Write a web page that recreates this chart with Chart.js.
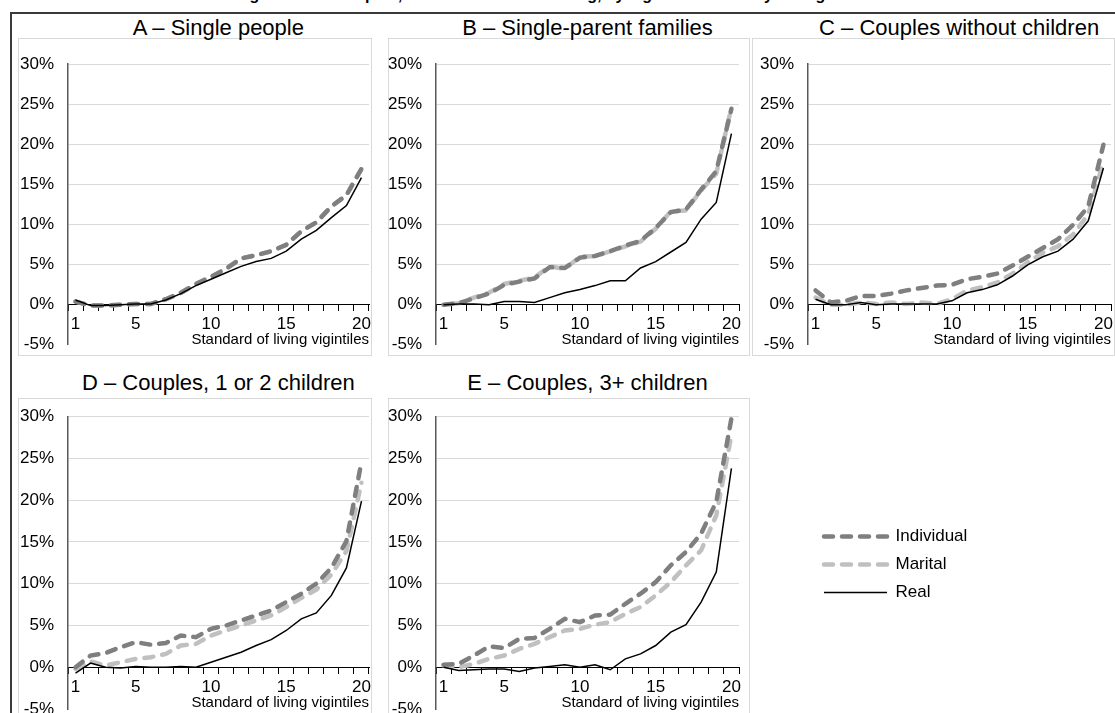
<!DOCTYPE html>
<html>
<head>
<meta charset="utf-8">
<script src="https://cdn.jsdelivr.net/npm/chart.js@4.4.1/dist/chart.umd.min.js"></script>
<style>
  html, body { margin: 0; padding: 0; background: #fff; overflow: hidden; width: 1115px; height: 713px; }
  body { position: relative; font-family: 'Liberation Sans', Arial, sans-serif; color: #000; }
  .frame { position: absolute; left: 10px; top: 12px; width: 1200px; height: 800px; border: 2px solid #3a3a3a; }
  .box { position: absolute; border: 1px solid #d9d9d9; box-sizing: border-box; }
  .ptitle { position: absolute; font-size: 22px; white-space: nowrap; transform: translate(-50%, -50%); }
  .fig-title { position: absolute; top: -13px; left: 0; width: 1115px; text-align: center; font-weight: bold; font-size: 16px; line-height: 16px; white-space: nowrap; }
  canvas { position: absolute; }
</style>
</head>
<body>
<div class="fig-title">Figure 2 – Tax impact, in % of standard of living, by vigintile and family configuration</div>
<div class="frame"></div>
<div id="root"></div>
<script>
// Standard-of-living vigintiles and the ones that get a label
const vigintiles = ['1','2','3','4','5','6','7','8','9','10','11','12','13','14','15','16','17','18','19','20'];
const labelledVigintiles = ['1','5','10','15','20'];
const seriesNames = ['Individual', 'Marital', 'Real'];

// A – Single people (%)
const singleIndividual = [0.3,-0.2,-0.2,-0.1,0,0,0.6,1.4,2.5,3.4,4.4,5.7,6.1,6.6,7.4,9.1,10.2,12.2,13.6,16.9];
const singleMarital    = [0.3,-0.2,-0.2,-0.1,0,0,0.6,1.4,2.5,3.4,4.4,5.7,6.1,6.6,7.4,9.1,10.2,12.2,13.6,16.9];
const singleReal       = [0.5,-0.2,-0.2,-0.1,0,0,0.5,1.3,2.3,3.1,3.9,4.7,5.3,5.7,6.6,8.1,9.2,10.8,12.3,15.8];

// B – Single-parent families (%)
const parentIndividual = [-0.1,0.1,0.7,1.3,2.4,2.8,3.2,4.6,4.5,5.8,6.0,6.6,7.3,7.9,9.5,11.5,11.8,14.3,16.6,24.4];
const parentMarital    = [-0.1,0.1,0.8,1.4,2.5,2.9,3.3,4.7,4.4,5.9,6.0,6.6,7.2,7.8,9.4,11.6,11.7,14.2,16.3,24.6];
const parentReal       = [-0.1,0,0,-0.1,0.3,0.3,0.2,0.8,1.4,1.8,2.3,2.9,2.9,4.5,5.3,6.5,7.7,10.6,12.7,21.3];

// C – Couples without children (%)
const childlessIndividual = [1.7,0.2,0.4,1.0,1.0,1.3,1.7,2.0,2.3,2.4,3.1,3.4,3.8,4.8,5.9,7.0,8.1,9.9,12.2,19.9];
const childlessMarital    = [0.8,-0.1,-0.1,0.2,0,0.2,0,0.2,0,0.6,1.7,2.1,2.7,3.8,5.2,6.4,7.2,8.7,11.2,17.8];
const childlessReal       = [0.6,-0.1,-0.1,0.2,-0.1,0,0,0,0,0.4,1.4,1.8,2.4,3.5,4.9,5.9,6.6,8.1,10.4,17.0];

// D – Couples, 1 or 2 children (%)
const smallIndividual = [0,1.4,1.7,2.4,3.0,2.7,2.9,3.8,3.6,4.6,5.0,5.6,6.2,6.8,7.8,8.8,10.0,11.9,15.1,24.6];
const smallMarital    = [-0.2,0.7,0.2,0.6,1.0,1.2,1.6,2.6,2.8,3.8,4.4,5.0,5.6,6.2,7.2,8.3,9.3,11.1,13.9,22.1];
const smallReal       = [-0.7,0.5,0,-0.1,0.1,0,0,0.1,0,0.6,1.2,1.8,2.6,3.3,4.4,5.8,6.5,8.6,11.9,19.9];

// E – Couples, 3+ children (%)
const largeIndividual = [0.3,0.4,1.4,2.5,2.3,3.4,3.5,4.6,5.8,5.4,6.2,6.3,7.6,8.8,10.2,12.2,13.8,16.0,19.8,29.8];
const largeMarital    = [0.2,0,0.4,1.0,1.4,2.2,2.8,3.6,4.4,4.6,5.1,5.4,6.4,7.2,8.6,10.2,12.2,14.0,18.2,27.8];
const largeReal       = [0,-0.4,-0.3,-0.2,-0.2,-0.5,-0.1,0.1,0.3,0,0.3,-0.3,1.0,1.6,2.6,4.2,5.1,7.8,11.4,23.8];

// Y axis range (%)
const yMin = -5, yMax = 30, yStep = 5;

const FONT = "'Liberation Sans', Arial, sans-serif";
Chart.defaults.font.family = FONT;
Chart.defaults.color = '#000';

const seriesStyles = [
  { borderColor: '#7f7f7f', borderWidth: 4.5, borderDash: [9, 9], borderCapStyle: 'round', order: 1 },
  { borderColor: '#c0c0c0', borderWidth: 4.5, borderDash: [9, 9], borderCapStyle: 'round', order: 2 },
  { borderColor: '#000000', borderWidth: 1.5, borderDash: [], borderCapStyle: 'butt', order: 0 }
];

// Panel layout: frame box, plot rectangle (x of axis, right end, y of 30% and -5%), title centre y
const panels = [
  { title: 'A – Single people', series: [singleIndividual, singleMarital, singleReal],
    box: [18, 38, 354, 318], plot: [67.5, 369.2, 64, 344], titleY: 28, dashShift: 0 },
  { title: 'B – Single-parent families', series: [parentIndividual, parentMarital, parentReal],
    box: [388, 38, 362, 318], plot: [435.8, 739.2, 64, 344], titleY: 28, dashShift: 9 },
  { title: 'C – Couples without children', series: [childlessIndividual, childlessMarital, childlessReal],
    box: [752, 38, 363, 318], plot: [807.5, 1110.8, 64, 344], titleY: 28, dashShift: 0 },
  { title: 'D – Couples, 1 or 2 children', series: [smallIndividual, smallMarital, smallReal],
    box: [18, 398, 354, 400], plot: [67.5, 369.2, 416.7, 709], titleY: 383, dashShift: 0 },
  { title: 'E – Couples, 3+ children', series: [largeIndividual, largeMarital, largeReal],
    box: [388, 398, 362, 400], plot: [435.8, 739.2, 416.7, 709], titleY: 383, dashShift: 0 }
];

const AXIS_W = 48, PAD_R = 4, PAD_B = 10;
const root = document.getElementById('root');

panels.forEach((p) => {
  const [bx, by, bw, bh] = p.box;
  const [pl, pr, pt, pb] = p.plot;

  const box = document.createElement('div');
  box.className = 'box';
  Object.assign(box.style, { left: bx + 'px', top: by + 'px', width: bw + 'px', height: bh + 'px' });
  root.appendChild(box);

  const t = document.createElement('div');
  t.className = 'ptitle';
  t.textContent = p.title;
  Object.assign(t.style, { left: ((pl + pr) / 2) + 'px', top: p.titleY + 'px' });
  root.appendChild(t);

  const cx = Math.round(pl - AXIS_W);
  const cy = by + 1;
  const cw = Math.round(pr - cx + PAD_R);
  const ch = Math.round(pb + PAD_B - cy);
  const canvas = document.createElement('canvas');
  canvas.width = cw; canvas.height = ch;
  Object.assign(canvas.style, { left: cx + 'px', top: cy + 'px', width: cw + 'px', height: ch + 'px' });
  root.appendChild(canvas);

  new Chart(canvas, {
    type: 'line',
    data: {
      labels: vigintiles,
      datasets: seriesNames.map((name, i) => Object.assign({
        label: name,
        data: p.series[i],
        pointRadius: 0,
        tension: 0,
        fill: false
      }, seriesStyles[i], i === 1 ? { borderDashOffset: p.dashShift } : {}))
    },
    options: {
      responsive: false,
      animation: false,
      events: [],
      layout: { padding: { top: pt - cy, right: PAD_R, bottom: PAD_B, left: 0 } },
      plugins: { legend: { display: false }, tooltip: { enabled: false } },
      scales: {
        x: {
          type: 'category',
          position: { y: 0 },
          offset: true,
          grid: { offset: true, drawOnChartArea: false, drawTicks: true, tickLength: 6, color: '#000', lineWidth: 1 },
          border: { display: true, color: '#000', width: 1 },
          ticks: {
            autoSkip: false, maxRotation: 0, padding: 4, font: { size: 17 },
            callback: function (v) {
              const l = this.getLabelForValue(v);
              return labelledVigintiles.includes(l) ? l : '';
            }
          },
          title: { display: true, text: 'Standard of living vigintiles', align: 'end', font: { size: 15 }, padding: { top: 0, bottom: -45 } },
          afterFit: (s) => { s.height = 0; s.paddingLeft = 0; s.paddingRight = 0; }
        },
        y: {
          min: yMin, max: yMax,
          border: { display: true, color: '#595959', width: 1.5 },
          grid: {
            drawTicks: false, lineWidth: 1,
            color: (c) => (c.tick && (c.tick.value === yMin || c.tick.value === 0)) ? 'rgba(0,0,0,0)' : '#d9d9d9'
          },
          ticks: { stepSize: yStep, padding: 14, font: { size: 17 }, callback: (v) => v + '%' },
          afterFit: (s) => { s.width = AXIS_W; s.paddingTop = 0; s.paddingBottom = 0; }
        }
      }
    }
  });
});

// Shared legend
const legendCanvas = document.createElement('canvas');
legendCanvas.width = 400; legendCanvas.height = 110;
Object.assign(legendCanvas.style, { left: '813px', top: '517px', width: '400px', height: '110px' });
root.appendChild(legendCanvas);

new Chart(legendCanvas, {
  type: 'line',
  data: {
    labels: [],
    datasets: seriesNames.map((name, i) => Object.assign({ label: name, data: [] }, seriesStyles[i], { order: 0 }))
  },
  options: {
    responsive: false,
    animation: false,
    events: [],
    layout: { padding: 0 },
    scales: { x: { display: false }, y: { display: false } },
    plugins: {
      tooltip: { enabled: false },
      legend: {
        display: true,
        position: 'left',
        align: 'start',
        labels: {
          usePointStyle: true,
          pointStyle: 'line',
          pointStyleWidth: 63,
          padding: 11,
          font: { size: 17 },
          color: '#000',
          generateLabels: (chart) => chart.data.datasets.map((ds, i) => ({
            text: ds.label,
            datasetIndex: i,
            hidden: false,
            pointStyle: 'line',
            fillStyle: ds.borderColor,
            strokeStyle: ds.borderColor,
            lineWidth: ds.borderWidth,
            lineDash: ds.borderDash,
            lineCap: ds.borderCapStyle,
            fontColor: '#000'
          }))
        }
      }
    }
  }
});
</script>
</body>
</html>
